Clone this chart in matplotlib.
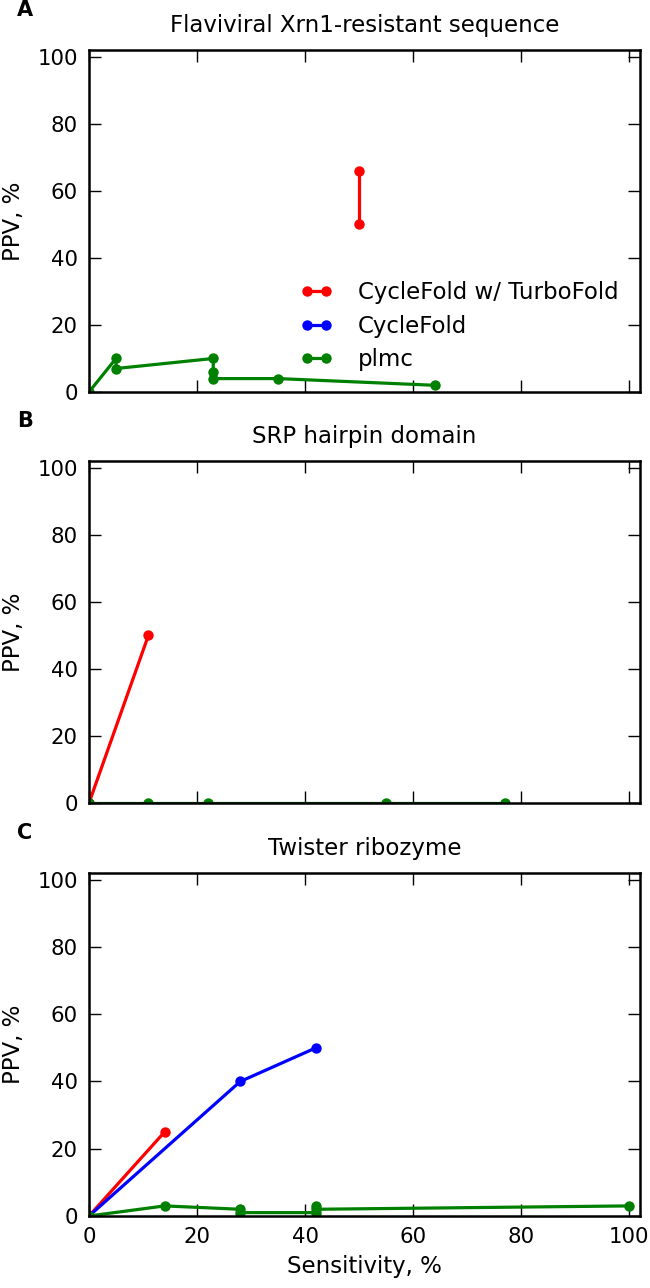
import matplotlib
matplotlib.use("Agg")
import matplotlib.pyplot as plt

# Panel A: Flaviviral Xrn1-resistant sequence
a_turbo_x = [50, 50]
a_turbo_y = [50, 66]
a_plmc_x = [0, 5, 5, 23, 23, 23, 35, 64]
a_plmc_y = [0, 10, 7, 10, 6, 4, 4, 2]

# Panel B: SRP hairpin domain
b_turbo_x = [0, 11]
b_turbo_y = [0, 50]
b_plmc_x = [0, 11, 22, 55, 77]
b_plmc_y = [0, 0, 0, 0, 0]

# Panel C: Twister ribozyme
c_turbo_x = [0, 14]
c_turbo_y = [0, 25]
c_cycle_x = [0, 28, 42]
c_cycle_y = [0, 40, 50]
c_plmc_x = [0, 14, 28, 28, 42, 42, 42, 100]
c_plmc_y = [0, 3, 2, 1, 1, 3, 2, 3]

titles = ["Flaviviral Xrn1-resistant sequence", "SRP hairpin domain", "Twister ribozyme"]
panel_letters = ["A", "B", "C"]
labels = ["CycleFold w/ TurboFold", "CycleFold", "plmc"]
ticks = [0, 20, 40, 60, 80, 100]

FS = 16.5
TFS = 15.3
plt.rcParams['font.family'] = ['DejaVu Sans']

fig = plt.figure(figsize=(6.5, 12.88), dpi=100)
H = 1288.0
W = 650.0
left = 89 / W
width = (640 - 89) / W
tops = [50, 461, 873]
bottoms = [392, 803, 1216]

axes = []
for t, b in zip(tops, bottoms):
    ax = fig.add_axes([left, 1 - b / H, width, (b - t) / H])
    axes.append(ax)

kw = dict(lw=2.3, marker='o', ms=7.5, mec='none')

ax = axes[0]
ax.plot(a_turbo_x, a_turbo_y, color='red', label=labels[0], **kw)
ax.plot([], [], color='blue', label=labels[1], **kw)
ax.plot(a_plmc_x, a_plmc_y, color='green', label=labels[2], **kw)
ax.legend(loc='lower left', bbox_to_anchor=(0.367, 0.035), borderaxespad=0,
          frameon=False, fontsize=FS, numpoints=2, handlelength=1.4,
          labelspacing=0.45, handletextpad=1.1)

ax = axes[1]
ax.plot(b_turbo_x, b_turbo_y, color='red', **kw)
ax.plot(b_plmc_x, b_plmc_y, color='green', **kw)

ax = axes[2]
ax.plot(c_turbo_x, c_turbo_y, color='red', **kw)
ax.plot(c_cycle_x, c_cycle_y, color='blue', **kw)
ax.plot(c_plmc_x, c_plmc_y, color='green', **kw)

for i, ax in enumerate(axes):
    ax.set_xlim(0, 102)
    ax.set_ylim(0, 102)
    ax.set_xticks(ticks)
    ax.set_yticks(ticks)
    ax.tick_params(direction='in', top=True, right=True, length=8.5, width=1,
                   labelsize=TFS, pad=8)
    for s in ax.spines.values():
        s.set_linewidth(1.8)
    ax.set_ylabel("PPV, %", fontsize=FS, labelpad=9)
    ax.set_title(titles[i], fontsize=FS, pad=13)
    if i < 2:
        ax.set_xticklabels([])
    fig.text(17 / W, 1 - (tops[i] - 40) / H, panel_letters[i],
             fontsize=15, fontweight='bold', va='center', ha='left')

axes[2].set_xlabel("Sensitivity, %", fontsize=FS, labelpad=6)

fig.savefig("out.png", dpi=100)
